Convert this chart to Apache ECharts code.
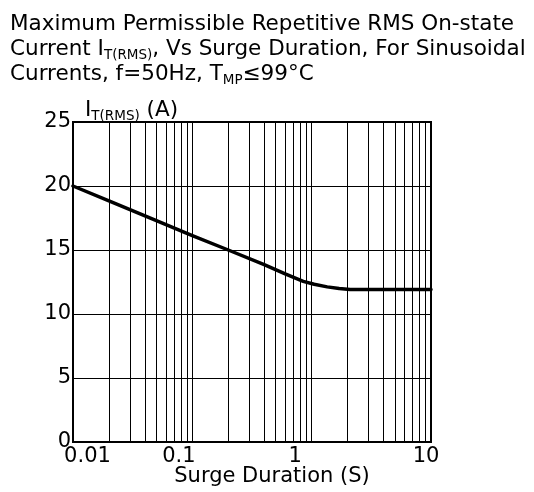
<!DOCTYPE html>
<html>
<head>
<meta charset="utf-8">
<script src="https://cdn.jsdelivr.net/npm/echarts@6/dist/echarts.min.js"></script>
<style>
html,body{margin:0;padding:0;background:#fff;}
#chart{width:534px;height:492px;}
</style>
</head>
<body>
<div id="chart"></div>
<script>
// ---- data ----
var surgeDuration = [0.01, 0.02, 0.05, 0.1, 0.2, 0.4, 0.6, 0.85, 1.05, 1.35, 1.7, 2.1, 10];
var currentRMS    = [20, 18.84, 17.29, 16.13, 15.0, 13.85, 13.13, 12.55, 12.32, 12.12, 11.99, 11.92, 11.92];
var xTickLabels = ['0.01', '0.1', '1', '10'];
var decades = [0.01, 0.1, 1];
var yTicks = [0, 5, 10, 15, 20, 25];

// minor log grid positions (2..9 in each decade)
var minorGrid = [];
decades.forEach(function (d) {
  for (var k = 2; k <= 9; k++) minorGrid.push(Number((k * d).toPrecision(3)));
});

var FONT = 'DejaVu Sans';
var chart = echarts.init(document.getElementById('chart'), null, {renderer: 'canvas'});

var labelKeys = {'0.01': 'a', '0.1': 'b', '1': 'c', '10': 'd'};

chart.setOption({
  animation: false,
  backgroundColor: '#fff',
  title: {
    left: 10,
    top: 12,
    padding: 0,
    text: 'Maximum Permissible Repetitive RMS On-state\nCurrent I{s|T(RMS)}, Vs Surge Duration, For Sinusoidal\nCurrents, f=50Hz, T{s|MP}\u226499\u00B0C',
    textStyle: {
      fontFamily: FONT, fontSize: 21.5, fontWeight: 'normal', color: '#000', lineHeight: 25,
      rich: {
        s: {fontFamily: FONT, fontSize: 13.5, lineHeight: 7, verticalAlign: 'bottom', color: '#000'}
      }
    }
  },
  grid: {
    left: 73, right: 103, top: 122, bottom: 50,
    outerBoundsMode: 'none',
    containLabel: false,
    show: true, borderColor: '#000', borderWidth: 2, backgroundColor: 'transparent'
  },
  xAxis: {
    type: 'log',
    logBase: 10,
    min: 0.01,
    max: 10,
    name: 'Surge Duration (S)',
    nameLocation: 'middle',
    nameGap: 24,
    nameMoveOverlap: false,
    nameTextStyle: {fontFamily: FONT, fontSize: 21, color: '#000', padding: [0, 0, 0, 40]},
    axisLine: {show: false},
    axisTick: {show: false},
    splitLine: {show: true, lineStyle: {color: '#000', width: 1}},
    axisLabel: {
      show: true,
      margin: 4,
      showMinLabel: true,
      showMaxLabel: true,
      fontFamily: FONT, fontSize: 21, color: '#000',
      formatter: function (v) {
        var idx = decades.concat([10]).findIndex(function (d) { return Math.abs(d - v) < 1e-9; });
        if (idx < 0) return '';
        var t = xTickLabels[idx];
        return '{' + labelKeys[t] + '|' + t + '}';
      },
      rich: {
        a: {fontFamily: FONT, fontSize: 21, color: '#000', padding: [0, 0, 0, 29]},
        b: {fontFamily: FONT, fontSize: 21, color: '#000', padding: [0, 27, 0, 0]},
        c: {fontFamily: FONT, fontSize: 21, color: '#000', padding: [0, 33, 0, 0]},
        d: {fontFamily: FONT, fontSize: 21, color: '#000', padding: [0, 10, 0, 0]}
      }
    }
  },
  yAxis: {
    type: 'value',
    min: yTicks[0],
    max: yTicks[yTicks.length - 1],
    interval: 5,
    name: 'I{s|T(RMS)} (A)',
    nameLocation: 'end',
    nameGap: 24,
    nameMoveOverlap: false,
    nameTextStyle: {
      fontFamily: FONT, fontSize: 21.5, color: '#000', align: 'left', verticalAlign: 'top',
      lineHeight: 25, padding: [0, 0, 0, 12],
      rich: {s: {fontFamily: FONT, fontSize: 13.5, lineHeight: 7, verticalAlign: 'bottom', color: '#000'}}
    },
    axisLine: {show: false},
    axisTick: {show: false},
    splitLine: {show: true, lineStyle: {color: '#000', width: 1}},
    axisLabel: {margin: 2, fontFamily: FONT, fontSize: 21, color: '#000'}
  },
  series: [{
    type: 'line',
    data: surgeDuration.map(function (x, i) { return [x, currentRMS[i]]; }),
    showSymbol: false,
    smooth: false,
    lineStyle: {color: '#000', width: 3.5, join: 'round', cap: 'round'},
    silent: true,
    z: 5,
    markLine: {
      silent: true,
      symbol: ['none', 'none'],
      label: {show: false},
      lineStyle: {color: '#000', width: 1, type: 'solid'},
      data: minorGrid.map(function (v) { return {xAxis: v}; })
    }
  }]
});
</script>
</body>
</html>
